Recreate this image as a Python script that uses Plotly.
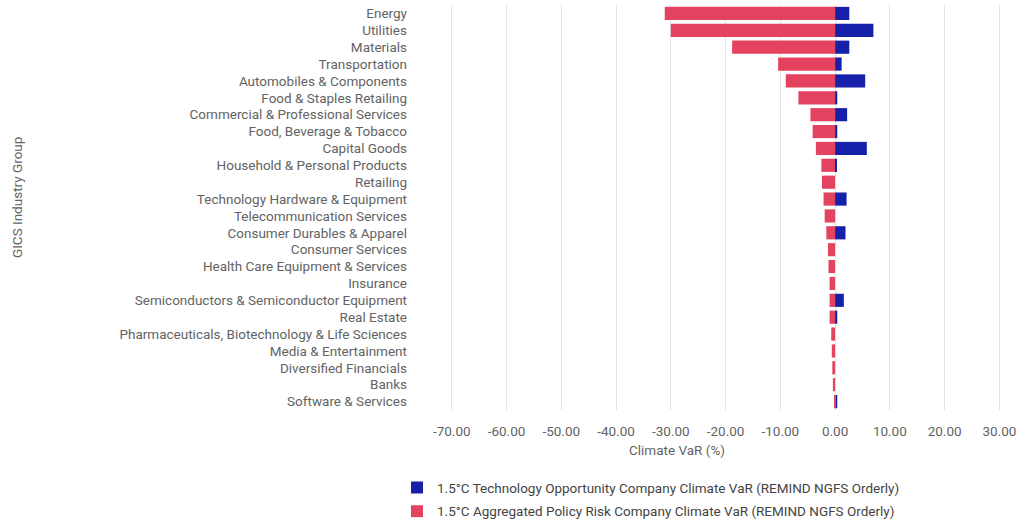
import plotly.graph_objects as go

categories = [
    "Energy", "Utilities", "Materials", "Transportation", "Automobiles & Components",
    "Food & Staples Retailing", "Commercial & Professional Services", "Food, Beverage & Tobacco",
    "Capital Goods", "Household & Personal Products", "Retailing",
    "Technology Hardware & Equipment", "Telecommunication Services", "Consumer Durables & Apparel",
    "Consumer Services", "Health Care Equipment & Services", "Insurance",
    "Semiconductors & Semiconductor Equipment", "Real Estate",
    "Pharmaceuticals, Biotechnology & Life Sciences", "Media & Entertainment",
    "Diversified Financials", "Banks", "Software & Services",
]

tech_opportunity = [2.6, 7.0, 2.6, 1.2, 5.5, 0.4, 2.2, 0.4, 5.8, 0.3, 0.0,
                    2.1, 0.0, 1.9, 0.0, 0.0, 0.0, 1.6, 0.4, 0.0, 0.0, 0.0, 0.0, 0.4]
policy_risk = [-31.1, -30.0, -18.8, -10.4, -9.0, -6.7, -4.5, -4.1, -3.5, -2.5, -2.4,
               -2.1, -1.9, -1.6, -1.3, -1.2, -1.0, -1.0, -1.0, -0.7, -0.6, -0.5, -0.4, -0.1]

x_ticks = [-70, -60, -50, -40, -30, -20, -10, 0, 10, 20, 30]

BLUE = "#1620a8"
RED = "#e3435f"
FONT = "Roboto"
TXT = "#636363"
FS = 13.5

# body margin is removed in the page, so figure coordinates equal page coordinates
W, H = 1021, 525
L, T = 449, 4.5
R = W - 1001
PH = 410.5 - T
B = H - T - PH
PW = W - L - R

fig = go.Figure()
fig.add_trace(go.Bar(
    y=categories, x=tech_opportunity, orientation="h",
    name="1.5°C Technology Opportunity Company Climate VaR (REMIND NGFS Orderly)",
    marker=dict(color=BLUE, line=dict(width=0)), legendgroup="a",
))
fig.add_trace(go.Bar(
    y=categories, x=policy_risk, orientation="h",
    name="1.5°C Aggregated Policy Risk Company Climate VaR (REMIND NGFS Orderly)",
    marker=dict(color=RED, line=dict(width=0)), legendgroup="b",
))

n = len(categories)
fig.update_layout(
    width=W, height=H,
    margin=dict(l=L, r=R, t=T, b=B, autoexpand=False),
    barmode="relative", bargap=0.22,
    plot_bgcolor="white", paper_bgcolor="white",
    font=dict(family=FONT, size=FS, color=TXT),
    showlegend=True,
    legend=dict(
        orientation="v", x=(397 - L) / PW, xanchor="left",
        y=-(473 - T - PH) / PH, yanchor="top",
        font=dict(size=FS, color="#444"), tracegroupgap=3, traceorder="grouped",
        itemwidth=30, bgcolor="rgba(0,0,0,0)",
    ),
    xaxis=dict(
        range=[-70.5, 30.3], tickvals=x_ticks,
        ticktext=[f"{v:.2f}" for v in x_ticks],
        showgrid=True, gridcolor="#e3e3e3", gridwidth=1,
        zeroline=False, showline=False, ticks="", automargin=False,
        tickfont=dict(size=FS, color=TXT), ticklabelstandoff=11,
    ),
    yaxis=dict(
        categoryorder="array", categoryarray=categories,
        range=[n - 0.5, -0.5],
        showgrid=False, zeroline=False, showline=False, ticks="", automargin=False,
        tickfont=dict(size=FS, color=TXT), ticklabelstandoff=41,
    ),
    annotations=[
        dict(
            text="GICS Industry Group", textangle=-90, showarrow=False,
            xref="paper", yref="paper", x=(17 - L) / PW, y=(PH + T - 198) / PH,
            xanchor="center", yanchor="middle",
            font=dict(size=FS, color=TXT),
        ),
        dict(
            text="Climate VaR (%)", showarrow=False,
            xref="paper", yref="paper", x=(677 - L) / PW, y=(PH + T - 451) / PH,
            xanchor="center", yanchor="middle",
            font=dict(size=FS, color=TXT),
        ),
    ],
)

fig.write_html(
    "out.html",
    config={"displayModeBar": False},
    post_script="document.body.style.margin='0';document.body.style.overflow='hidden';",
)
